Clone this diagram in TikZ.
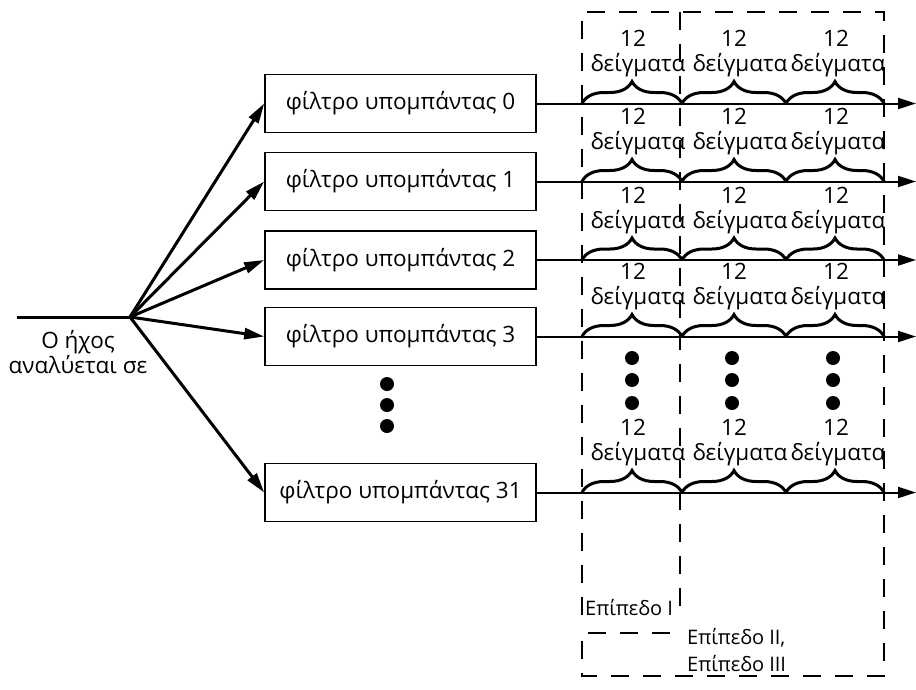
\documentclass[tikz,border=0pt]{standalone}
\usepackage{fontspec}
\setmainfont{Open Sans}
\usetikzlibrary{arrows.meta,decorations.pathreplacing}
\begin{document}
\begin{tikzpicture}[x=1pt,y=-1pt,
  filterbox/.style={draw, line width=1.6pt, minimum width=271pt, minimum height=58pt,
    font=\fontsize{22.5}{26}\selectfont, inner sep=0pt},
  fanarrow/.style={line width=3pt, -{Triangle[length=20pt,width=11pt]}},
  outline/.style={line width=2pt, -{Triangle[length=18pt,width=11pt]}},
  zone/.style={line width=1.5pt, dash pattern=on 18pt off 14pt},
  samplebrace/.style={decorate, decoration={brace, amplitude=22pt, aspect=0.5}, line width=3pt},
  lbl/.style={font=\fontsize{22.5}{25}\selectfont, inner sep=0pt},
  lvl/.style={font=\fontsize{20}{27}\selectfont, inner sep=0pt},
  dot/.style={circle, fill, minimum size=14pt, inner sep=0pt}
]
\useasboundingbox (0,0) rectangle (916,689);

% incoming signal and its split point
\coordinate (in) at (17,317);
\coordinate (src) at (130,317);
\draw[line width=3pt] (in) -- (src);
\node[lbl, align=center] (snd) at (78,352) {Ο ήχος\\αναλύεται σε};

% the subband filters, their feeds and their output lines
\foreach \n/\y in {0/103.5, 1/181.5, 2/260, 3/336.5, 31/492.5} {
  \node[filterbox] (f\n) at (400.5,\y) {φίλτρο υπομπάντας \n};
  \draw[fanarrow] (src) -- (f\n.west);
  \coordinate (e\n) at (916,\y);
  \draw[outline] (f\n.east) -- (e\n);
  % three blocks of 12 samples along each output
  \coordinate (b\n a) at (582,\y);
  \coordinate (b\n b) at (682,\y);
  \coordinate (b\n c) at (786,\y);
  \coordinate (b\n d) at (884,\y);
  \draw[samplebrace] (b\n a) -- (b\n b);
  \draw[samplebrace] (b\n b) -- (b\n c);
  \draw[samplebrace] (b\n c) -- (b\n d);
  \node[lbl] (n\n a) at (633,\y-65) {12};
  \node[lbl] (n\n b) at (734,\y-65) {12};
  \node[lbl] (n\n c) at (836,\y-65) {12};
  \node[lbl] (s\n a) at (638,\y-38) {δείγματα};
  \node[lbl] (s\n b) at (740,\y-38) {δείγματα};
  \node[lbl] (s\n c) at (838,\y-38) {δείγματα};
}

% ellipsis between filter 3 and filter 31
\foreach \k/\y in {1/384, 2/405, 3/426} {
  \node[dot] (d\k) at (387,\y) {};
}
\foreach \c/\x in {a/632, b/732, c/833} {
  \foreach \k/\y in {1/358, 2/380, 3/403} {
    \node[dot] (d\c\k) at (\x,\y) {};
  }
}

% frame grouping of the layers
\draw[zone] (582,615) -- (582,12) -- (884,12) -- (884,676) -- (582,676) -- (582,633) -- (678,633);
\draw[zone] (680,12) -- (680,615);
\node[lvl, anchor=west] (lev1) at (585,608) {Επίπεδο I};
\node[lvl, anchor=north west, align=left] (lev23) at (687,628) {Επίπεδο II,\\Επίπεδο III};
\end{tikzpicture}
\end{document}
